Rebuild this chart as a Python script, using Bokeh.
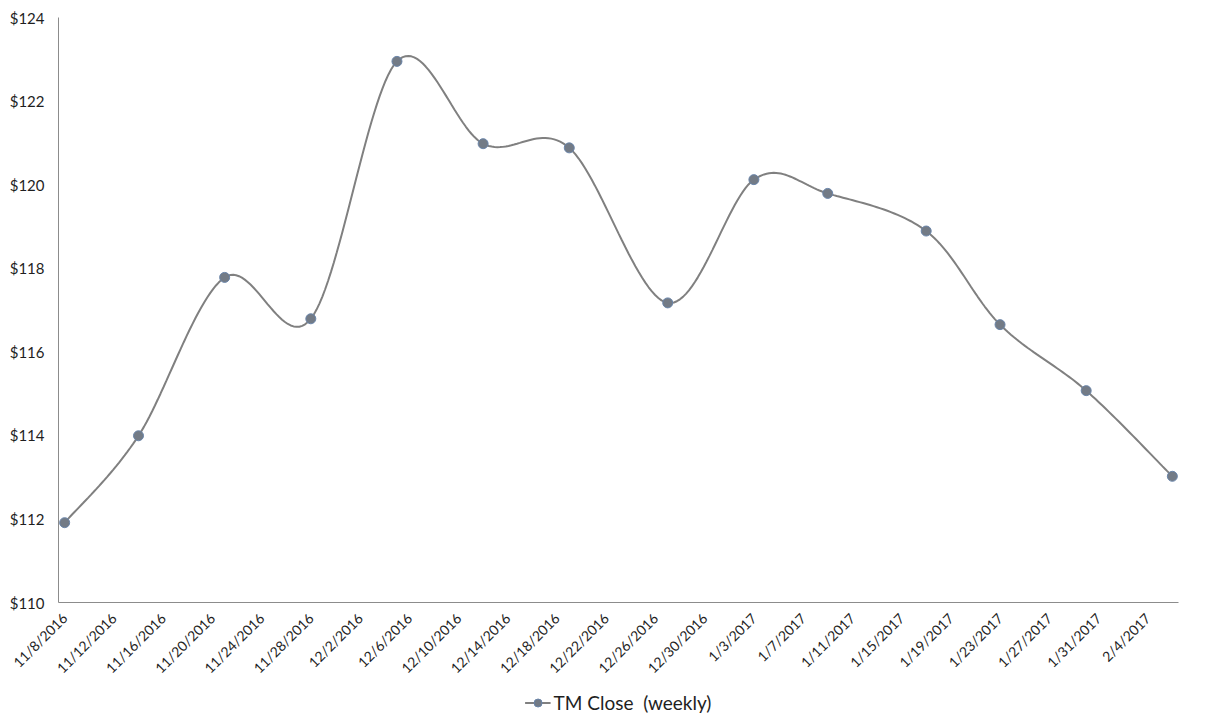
import numpy as np
from datetime import datetime
from bokeh.plotting import figure
from bokeh.layouts import column
from bokeh.models import Range1d, FixedTicker, Legend, LegendItem, PrintfTickFormatter
from bokeh.embed import file_html
from bokeh.resources import INLINE

# ---- data ----
dates = ["11/8/2016", "11/14/2016", "11/21/2016", "11/28/2016", "12/5/2016", "12/12/2016",
         "12/19/2016", "12/27/2016", "1/3/2017", "1/9/2017", "1/17/2017", "1/23/2017",
         "1/30/2017", "2/6/2017"]
close = [111.91, 113.99, 117.78, 116.79, 122.95, 120.98, 120.88, 117.17, 120.12, 119.79,
         118.89, 116.65, 115.07, 113.02]
tick_labels = ["11/8/2016", "11/12/2016", "11/16/2016", "11/20/2016", "11/24/2016", "11/28/2016",
               "12/2/2016", "12/6/2016", "12/10/2016", "12/14/2016", "12/18/2016", "12/22/2016",
               "12/26/2016", "12/30/2016", "1/3/2017", "1/7/2017", "1/11/2017", "1/15/2017",
               "1/19/2017", "1/23/2017", "1/27/2017", "1/31/2017", "2/4/2017"]
y_ticks = [110, 112, 114, 116, 118, 120, 122, 124]
series_name = "TM Close  (weekly)"

FONT = "Lato"
TEXT = "#1f1f1f"
AXIS = "#8c8c8c"
LINE = "#808080"
MFILL = "#737b86"
MEDGE = "#6a85aa"

def parse(s):
    return datetime.strptime(s, "%m/%d/%Y")

base = parse(dates[0])
xs = np.array([(parse(d) - base).days for d in dates], dtype=float)
ys = np.array(close, dtype=float)
tick_vals = [(parse(t) - base).days for t in tick_labels]

# Excel-like smoothed line (Catmull-Rom as cubic Bezier)
def smooth(x, y, n=30):
    P = np.column_stack([x, y])
    m = len(P)
    out = []
    for i in range(m - 1):
        p0 = P[max(i - 1, 0)]
        p1 = P[i]
        p2 = P[i + 1]
        p3 = P[min(i + 2, m - 1)]
        c1 = p1 + (p2 - p0) / 6.0
        c2 = p2 - (p3 - p1) / 6.0
        t = np.linspace(0, 1, n, endpoint=(i == m - 2))[:, None]
        seg = ((1 - t) ** 3) * p1 + 3 * ((1 - t) ** 2) * t * c1 + 3 * (1 - t) * t ** 2 * c2 + t ** 3 * p2
        out.append(seg)
    out = np.vstack(out)
    return out[:, 0], out[:, 1]

sx, sy = smooth(xs, ys)

p = figure(width=1200, height=685, output_backend="svg", toolbar_location=None,
           x_range=Range1d(xs[0] - 0.5, xs[-1] + 0.5), y_range=Range1d(y_ticks[0], y_ticks[-1]),
           min_border_left=58, min_border_right=14, min_border_top=17, min_border_bottom=82)

p.line(sx, sy, line_color=LINE, line_width=2)
p.scatter(xs, ys, size=10, marker="circle", fill_color=MFILL, line_color=MEDGE, line_width=1)

p.xaxis.ticker = FixedTicker(ticks=tick_vals)
p.xaxis.major_label_overrides = {v: lab for v, lab in zip(tick_vals, tick_labels)}
p.xaxis.major_label_orientation = np.pi / 4
p.yaxis.ticker = FixedTicker(ticks=y_ticks)
p.yaxis.formatter = PrintfTickFormatter(format="$%d")

for ax in (p.xaxis, p.yaxis):
    ax.axis_line_color = AXIS
    ax.axis_line_width = 1
    ax.major_tick_line_color = None
    ax.minor_tick_line_color = None
    ax.major_tick_in = 0
    ax.major_tick_out = 0
    ax.major_label_text_font = FONT
    ax.major_label_text_color = TEXT
p.xaxis.major_label_text_font_size = "14px"
p.yaxis.major_label_text_font_size = "15px"
p.xaxis.major_label_standoff = 13
p.yaxis.major_label_standoff = 14

p.xgrid.visible = False
p.ygrid.visible = False
p.outline_line_color = None
p.background_fill_color = "white"
p.border_fill_color = "white"

# legend strip below the chart (sample glyphs kept outside its visible range)
lg = figure(width=1200, height=34, output_backend="svg", toolbar_location=None,
            x_range=Range1d(0, 1), y_range=Range1d(0, 1),
            min_border=0, min_border_right=22, x_axis_type=None, y_axis_type=None)
lg.xgrid.visible = False
lg.ygrid.visible = False
lg.outline_line_color = None
lg_line = lg.line([5, 6], [5, 6], line_color=LINE, line_width=2)
lg_pts = lg.scatter([5], [5], size=10, marker="circle", fill_color=MFILL, line_color=MEDGE, line_width=1)
legend = Legend(items=[LegendItem(label=series_name, renderers=[lg_line, lg_pts])],
                orientation="horizontal", location="center",
                label_text_font=FONT, label_text_font_size="19px", label_text_color=TEXT,
                border_line_color=None, background_fill_alpha=0,
                glyph_width=26, glyph_height=20, label_standoff=3, margin=0, padding=4)
lg.add_layout(legend, "center")

open("out.html", "w").write(file_html(column(p, lg, spacing=0), INLINE))
